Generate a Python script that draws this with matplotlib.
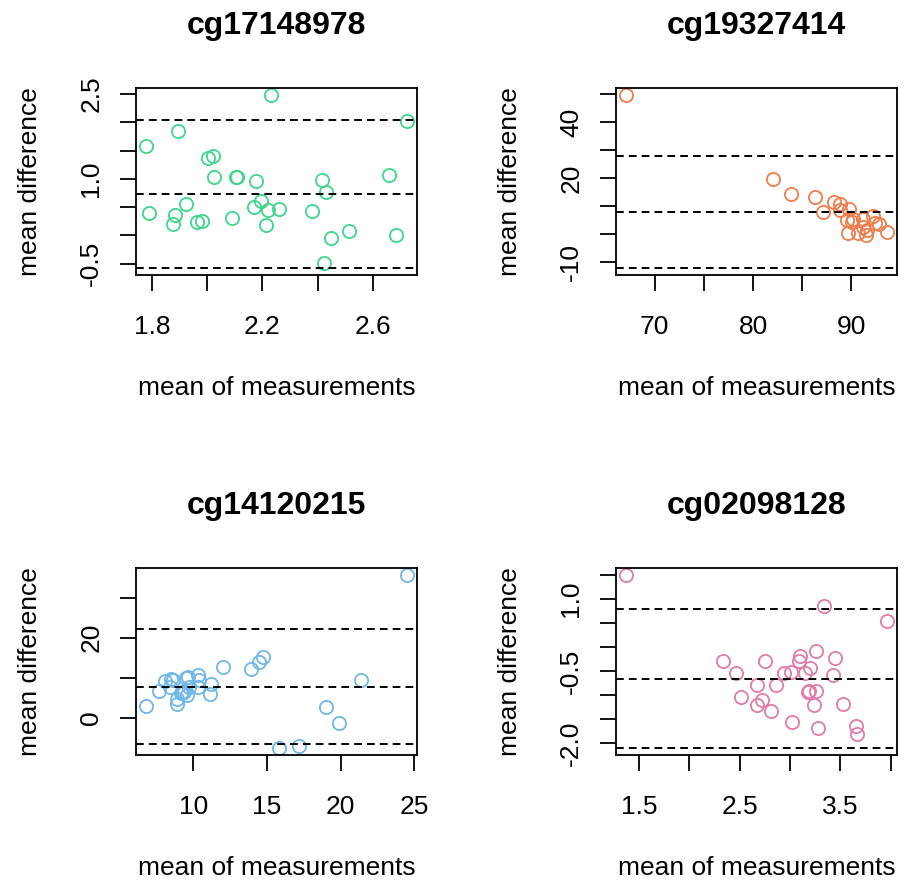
import matplotlib
matplotlib.use("Agg")
import matplotlib.pyplot as plt
import numpy as np

plt.rcParams["font.family"] = ["Liberation Sans", "DejaVu Sans"]

# --- data (Bland-Altman style panels) ---
titles = ["cg17148978", "cg19327414", "cg14120215", "cg02098128"]
colors = ["#3ED68A", "#EE7D4B", "#6FB7EA", "#E27BAA"]

cg1_mean = [1.780, 1.789, 1.893, 1.884, 1.878, 1.925, 1.963, 1.983, 2.004, 2.020,
            2.025, 2.103, 2.108, 2.090, 2.175, 2.169, 2.194, 2.220, 2.261, 2.214,
            2.230, 2.380, 2.414, 2.431, 2.422, 2.449, 2.513, 2.660, 2.684, 2.722]
cg1_diff = [1.58, 0.394, 1.853, 0.365, 0.206, 0.559, 0.241, 0.247, 1.365, 1.412,
            1.024, 1.035, 1.035, 0.300, 0.965, 0.494, 0.600, 0.441, 0.471, 0.182,
            2.482, 0.424, 0.982, 0.765, -0.482, -0.047, 0.076, 1.071, 0.000, 2.018]
cg1_lines = [2.04, 0.735, -0.576]

cg2_mean = [67.14, 82.05, 83.84, 86.26, 87.10, 88.25, 88.86, 88.86, 89.80, 89.53,
            90.05, 90.20, 91.21, 92.15, 92.39, 92.80, 89.63, 90.71, 91.48, 91.55,
            91.21, 93.57]
cg2_diff = [49.64, 19.75, 14.29, 13.32, 7.75, 11.54, 10.71, 8.57, 8.82, 5.00,
            4.40, 5.40, 5.25, 6.43, 3.82, 3.50, 0.46, 0.46, -0.36, 1.43,
            2.61, 0.82]
cg2_lines = [27.9, 7.96, -12.1]

cg3_mean = [6.81, 7.69, 8.09, 8.61, 8.38, 8.88, 8.88, 9.15, 9.37, 9.55,
            9.51, 9.66, 10.34, 10.40, 10.34, 11.17, 11.13, 12.02, 13.93, 14.49,
            14.72, 15.84, 17.19, 19.03, 19.93, 21.37, 24.49, 9.24, 9.73, 8.50]
cg3_diff = [3.0, 6.75, 9.25, 9.43, 7.75, 3.43, 4.6, 6.1, 6.5, 5.67,
            9.85, 10.25, 10.68, 9.43, 7.75, 8.43, 5.93, 12.6, 12.1, 14.0,
            15.25, -7.65, -7.25, 2.6, -1.4, 9.43, 35.7, 6.5, 7.75, 9.6]
cg3_lines = [22.2, 7.6, -6.7]

cg4_mean = [1.375, 3.336, 3.961, 2.339, 2.467, 2.510, 2.668, 2.671, 2.724, 2.757,
            2.816, 2.862, 2.944, 3.013, 3.016, 3.086, 3.105, 3.155, 3.197, 3.178,
            3.191, 3.257, 3.263, 3.237, 3.280, 3.451, 3.424, 3.523, 3.661, 3.664]
cg4_diff = [1.500, 0.844, 0.540, -0.282, -0.537, -1.041, -0.786, -1.193, -1.104, -0.296,
            -1.318, -0.786, -0.537, -0.523, -1.553, -0.289, -0.192, -0.537, -0.434, -0.931,
            -0.917, -0.075, -0.903, -1.207, -1.684, -0.227, -0.572, -1.173, -1.642, -1.801]
cg4_lines = [0.789, -0.655, -2.098]

xticks = [[1.8, 2.0, 2.2, 2.4, 2.6], [70, 75, 80, 85, 90], [10, 15, 20, 25],
          [1.5, 2.0, 2.5, 3.0, 3.5, 4.0]]
xlabels = [["1.8", "", "2.2", "", "2.6"], ["70", "", "80", "", "90"],
           ["10", "15", "20", "25"], ["1.5", "", "2.5", "", "3.5", ""]]
yticks = [[-0.5, 0.0, 0.5, 1.0, 1.5, 2.0, 2.5], [-10, 0, 10, 20, 30, 40, 50],
          [0, 10, 20, 30], [-2.0, -1.5, -1.0, -0.5, 0.0, 0.5, 1.0, 1.5]]
ylabels = [["-0.5", "", "", "1.0", "", "", "2.5"], ["-10", "", "", "20", "", "40", ""],
           ["0", "", "20", ""], ["-2.0", "", "", "-0.5", "", "", "1.0", ""]]

means = [cg1_mean, cg2_mean, cg3_mean, cg4_mean]
diffs = [cg1_diff, cg2_diff, cg3_diff, cg4_diff]
lines = [cg1_lines, cg2_lines, cg3_lines, cg4_lines]


def r_range(values):
    # base R plots pad the data range by 4% on each side
    lo, hi = np.min(values), np.max(values)
    pad = 0.04 * (hi - lo)
    return lo - pad, hi + pad


W, H = 905, 880
fig = plt.figure(figsize=(W / 100, H / 100), dpi=100)

# panel boxes in pixels: (left, top)
boxes = [(136, 88), (616, 88), (136, 568), (616, 568)]
bw, bh = 281, 187

for i, (left, top) in enumerate(boxes):
    ax = fig.add_axes([left / W, 1 - (top + bh) / H, bw / W, bh / H])
    ax.plot(means[i], diffs[i], "o", mfc="none", mec=colors[i], ms=9.5, mew=1.3)
    for v in lines[i]:
        ax.axhline(v, color="black", lw=1.4, ls=(0, (4, 2.6)))

    ax.set_xlim(*r_range(means[i]))
    ax.set_ylim(*r_range(list(diffs[i]) + lines[i]))

    ax.set_xticks(xticks[i])
    ax.set_xticklabels(xlabels[i])
    ax.set_yticks(yticks[i])
    ax.set_yticklabels(ylabels[i], rotation=90, va="center")
    ax.tick_params(length=11.5, width=1.3, labelsize=19, direction="out")
    ax.tick_params(axis="x", pad=17)
    ax.tick_params(axis="y", pad=12)
    for s in ax.spines.values():
        s.set_linewidth(1.3)

    ax.set_title(titles[i], fontsize=23, fontweight="bold", y=1.332, pad=0, va="center")
    ax.set_xlabel("mean of measurements", fontsize=19, va="center")
    ax.xaxis.set_label_coords(0.5, -0.604)
    ax.set_ylabel("mean difference", fontsize=19, va="center")
    ax.yaxis.set_label_coords(-0.377, 0.5)

fig.savefig("out.png", dpi=100)
